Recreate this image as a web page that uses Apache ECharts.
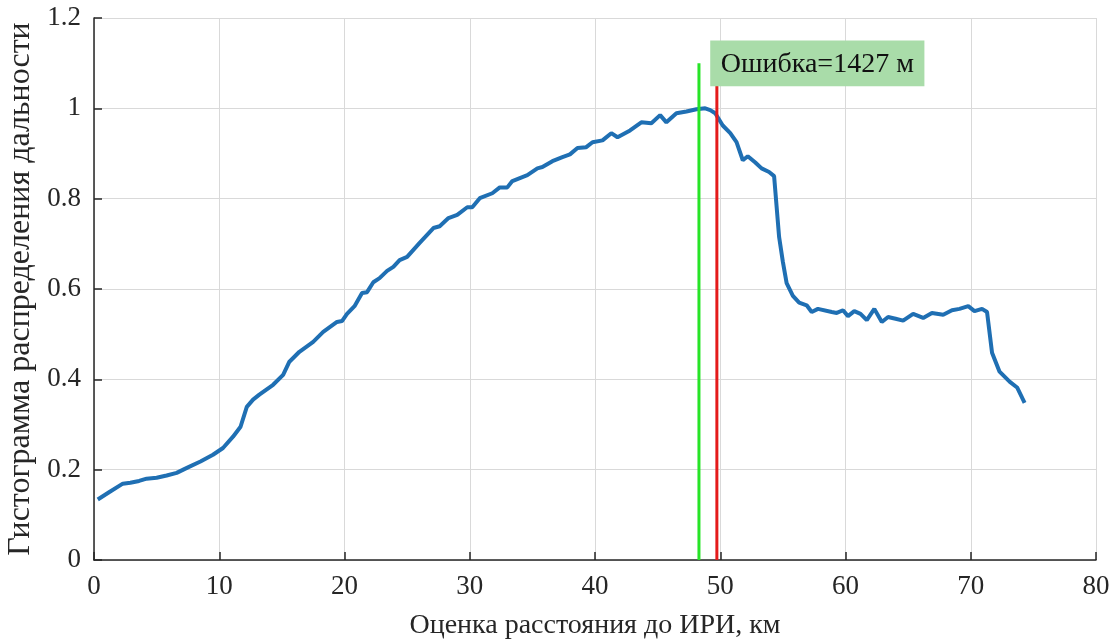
<!DOCTYPE html>
<html><head><meta charset="utf-8">
<script src="https://cdn.jsdelivr.net/npm/echarts@6/dist/echarts.min.js"></script>
<style>html,body{margin:0;padding:0;background:#fff}#c{width:1114px;height:642px}</style>
</head><body><div id="c"></div>
<script>
const distKm = [0.3,1.2,2.3,2.9,3.6,4.2,5.0,5.8,6.6,7.5,8.5,9.5,10.3,11.1,11.7,12.2,12.7,13.2,14.3,15.1,15.6,16.4,17.5,18.3,19.4,19.8,20.2,20.8,21.4,21.8,22.3,22.8,23.4,23.9,24.4,25.0,26.0,27.1,27.6,28.3,29.0,29.8,30.2,30.8,31.8,32.4,33.0,33.4,34.6,35.4,35.8,36.6,37.4,38.0,38.6,39.3,39.8,40.6,41.3,41.8,42.8,43.7,44.5,45.2,45.7,46.5,47.3,48.1,48.8,49.2,49.6,50.2,50.8,51.3,51.8,52.2,52.8,53.3,53.9,54.3,54.7,55.0,55.3,55.8,56.3,56.9,57.3,57.8,58.9,59.3,59.8,60.2,60.7,61.2,61.7,62.3,62.9,63.4,64.0,64.6,65.4,66.2,66.9,67.8,68.5,69.1,69.8,70.3,70.9,71.3,71.7,72.3,73.1,73.7,74.3];
const histValue = [0.134,0.150,0.169,0.171,0.175,0.180,0.182,0.187,0.193,0.205,0.218,0.233,0.248,0.273,0.295,0.339,0.355,0.366,0.388,0.410,0.439,0.461,0.483,0.505,0.527,0.529,0.545,0.562,0.591,0.593,0.615,0.624,0.640,0.649,0.664,0.671,0.702,0.735,0.739,0.757,0.764,0.781,0.781,0.801,0.812,0.825,0.825,0.839,0.852,0.867,0.870,0.883,0.892,0.898,0.912,0.914,0.925,0.929,0.945,0.936,0.951,0.969,0.967,0.985,0.969,0.989,0.993,0.998,1.000,0.996,0.989,0.962,0.945,0.925,0.885,0.894,0.880,0.867,0.859,0.850,0.715,0.660,0.613,0.585,0.570,0.564,0.549,0.556,0.549,0.547,0.553,0.540,0.551,0.545,0.531,0.556,0.527,0.538,0.534,0.530,0.545,0.536,0.547,0.543,0.553,0.556,0.562,0.551,0.556,0.549,0.459,0.417,0.395,0.382,0.348];
const trueDist = 48.3;
const estDist = 49.73;
const markerTop = 1.1;
const errorLabel = 'Ошибка=1427 м';
const labelBox = [49.2, 1.15, 66.3, 1.049];
const xTicks = [0,10,20,30,40,50,60,70,80];
const yTicks = [0,0.2,0.4,0.6,0.8,1,1.2];

const font = 'Liberation Serif';
const chart = echarts.init(document.getElementById('c'), null, {renderer:'canvas'});
chart.setOption({
  animation:false,
  grid:{left:94,right:18,top:18,bottom:82,containLabel:false,outerBoundsMode:'none'},
  xAxis:{type:'value',min:xTicks[0],max:xTicks[xTicks.length-1],interval:10,
    name:'Оценка расстояния до ИРИ, км',nameLocation:'middle',nameGap:52,
    nameTextStyle:{fontFamily:font,fontSize:28,color:'#262626'},
    axisLine:{show:true,onZero:false,lineStyle:{color:'#262626',width:1.5}},
    axisTick:{show:true,inside:true,length:8,lineStyle:{color:'#262626',width:1.5}},
    axisLabel:{fontFamily:font,fontSize:27,color:'#262626',margin:13},
    splitLine:{show:true,lineStyle:{color:'#d9d9d9',width:1}}},
  yAxis:{type:'value',min:yTicks[0],max:yTicks[yTicks.length-1],interval:0.2,
    name:'Гистограмма распределения дальности',nameLocation:'middle',nameGap:46,
    nameTextStyle:{fontFamily:font,fontSize:32,color:'#262626'},
    axisLine:{show:true,onZero:false,lineStyle:{color:'#262626',width:1.5}},
    axisTick:{show:true,inside:true,length:8,lineStyle:{color:'#262626',width:1.5}},
    axisLabel:{fontFamily:font,fontSize:27,color:'#262626',margin:13,formatter:v=>String(Math.round(v*10)/10)},
    splitLine:{show:true,lineStyle:{color:'#d9d9d9',width:1}}},
  series:[
    {type:'line',data:distKm.map((x,i)=>[x,histValue[i]]),showSymbol:false,symbol:'none',
      lineStyle:{color:'#1f6fb3',width:4},z:3},
    {type:'line',data:[[trueDist,0],[trueDist,markerTop]],symbol:'none',lineStyle:{color:'#27e427',width:3},z:4},
    {type:'line',data:[[estDist,0],[estDist,markerTop]],symbol:'none',lineStyle:{color:'#e41b1b',width:3},z:4},
    {type:'custom',z:10,data:[labelBox],
      renderItem:(params,api)=>{
        const p1 = api.coord([api.value(0),api.value(1)]);
        const p2 = api.coord([api.value(2),api.value(3)]);
        return {type:'group',children:[
          {type:'rect',shape:{x:p1[0],y:p1[1],width:p2[0]-p1[0],height:p2[1]-p1[1]},style:{fill:'#a9dca9'}},
          {type:'text',style:{text:errorLabel,x:(p1[0]+p2[0])/2,y:(p1[1]+p2[1])/2+1,align:'center',verticalAlign:'middle',
            font:'28px "Liberation Serif"',fill:'#111'}}
        ]};
      }}
  ]
});
</script></body></html>
